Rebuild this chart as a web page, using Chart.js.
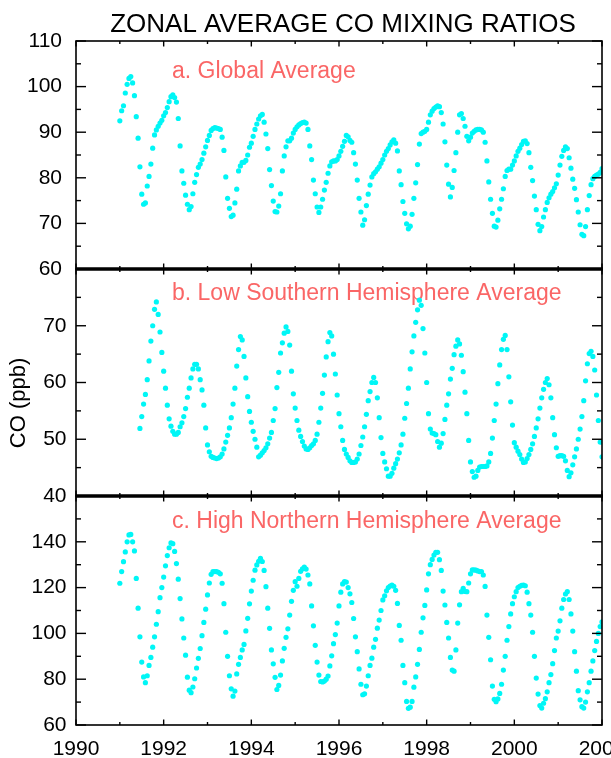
<!DOCTYPE html>
<html>
<head>
<meta charset="utf-8">
<title>Zonal average CO mixing ratios</title>
<script src="https://cdn.jsdelivr.net/npm/chart.js@4.4.1/dist/chart.umd.min.js"></script>
<style>
  html, body { margin: 0; padding: 0; background: #fff; }
  #wrap { position: relative; width: 611px; height: 758px; overflow: hidden; }
  #wrap canvas { position: absolute; left: 0; top: 0; }
</style>
</head>
<body>
<div id="wrap">
  <canvas id="panelA" width="611" height="758"></canvas>
  <canvas id="panelB" width="611" height="758"></canvas>
  <canvas id="panelC" width="611" height="758"></canvas>
</div>
<script>
// samples are twice a month (24 per year)
const STEPS_PER_YEAR = 24;

const yearTicks = [1990, 1992, 1994, 1996, 1998, 2000, 2002];
const globalTicks = [60, 70, 80, 90, 100, 110];
const lowSouthTicks = [40, 50, 60, 70];
const highNorthTicks = [60, 80, 100, 120, 140];

// a. global average, from 1991.0
const globalStart = 1991;
const globalCO = [
    92.5, 94.7, 95.8, 98.6, 100.5, 101.8, 102.2, 100.8, 98.0, 93.4, 88.7, 82.4, 76.4, 74.2, 74.5, 78.2, 80.3, 83.0, 86.5, 89.4, 90.5, 91.3, 92.0, 92.6,
    93.6, 94.3, 95.4, 96.7, 97.8, 98.2, 97.6, 96.6, 93.0, 87.0, 81.5, 78.8, 76.2, 74.2, 73.0, 73.7, 76.5, 79.0, 80.7, 82.3, 83.0, 84.0, 85.4, 86.8,
    88.2, 89.3, 90.4, 90.8, 91.0, 90.9, 90.8, 90.6, 88.9, 86.0, 80.2, 75.5, 73.3, 71.5, 71.8, 74.5, 77.5, 81.5, 82.6, 83.4, 83.4, 83.8, 85.0, 86.7,
    87.6, 89.1, 90.6, 91.8, 92.9, 93.6, 93.9, 92.2, 89.6, 86.4, 81.8, 78.3, 74.9, 72.6, 72.5, 73.8, 76.5, 81.5, 84.8, 86.8, 88.1, 88.1, 88.7, 89.8,
    90.6, 91.2, 91.6, 91.9, 92.1, 92.2, 92.0, 90.6, 87.0, 84.0, 79.5, 76.5, 73.6, 72.4, 73.6, 75.3, 77.3, 79.0, 81.0, 82.6, 83.5, 83.7, 83.7, 84.0,
    84.8, 85.8, 86.9, 88.0, 89.3, 89.0, 88.2, 87.8, 85.5, 83.0, 79.5, 75.5, 72.5, 69.6, 70.8, 73.9, 76.4, 78.4, 80.2, 80.9, 81.3, 81.9, 82.4, 83.2,
    84.0, 85.0, 85.8, 86.4, 87.2, 87.9, 88.3, 87.6, 85.9, 81.5, 78.5, 74.8, 72.2, 69.9, 68.8, 69.4, 72.0, 75.5, 78.9, 82.9, 87.4, 89.7, 90.0, 90.2,
    90.6, 92.2, 93.8, 94.6, 95.2, 95.5, 95.8, 95.6, 94.3, 91.8, 87.9, 82.8, 78.6, 75.8, 77.9, 81.6, 85.5, 90.0, 93.8, 94.1, 93.0, 91.3, 89.1, 88.1,
    88.9, 89.8, 90.2, 90.5, 90.6, 90.6, 90.5, 90.0, 87.8, 83.7, 79.1, 75.3, 72.2, 69.4, 69.2, 70.7, 73.2, 75.3, 77.6, 80.3, 81.6, 81.9, 81.9, 82.8,
    83.7, 84.8, 85.8, 86.5, 87.3, 88.0, 88.1, 87.5, 85.5, 82.3, 79.4, 76.0, 73.0, 69.8, 68.4, 69.3, 71.4, 73.0, 74.6, 75.6, 76.4, 77.0, 77.8, 78.7,
    80.6, 82.8, 84.7, 86.0, 86.8, 86.4, 84.4, 82.1, 79.7, 77.7, 75.2, 72.5, 69.7, 67.6, 67.3, 69.3, 73.0, 76.1, 78.5, 79.8, 80.3, 80.6, 80.8, 81.2,
    82.0
];

// b. low southern hemisphere average, from mid 1991
const lowSouthStart = 1991 + 11 / 24;
const lowSouthCO = [
    51.9, 54.0, 56.2, 57.9, 60.5, 63.8, 67.3, 70.0, 72.9, 74.2, 72.0, 68.9, 65.3,
    62.0, 59.0, 56.0, 53.6, 52.3, 51.4, 50.9, 50.9, 51.2, 52.2, 52.9, 54.0, 55.4, 57.4, 59.0, 60.8, 62.4, 63.2, 63.2, 62.4, 60.5, 58.7, 56.0, 52.0,
    49.0, 47.8, 47.0, 46.8, 46.7, 46.6, 46.7, 46.9, 47.4, 48.3, 49.5, 50.7, 52.0, 53.8, 56.2, 59.0, 62.9, 65.8, 68.1, 67.5, 64.6, 60.8, 57.5, 54.9,
    53.0, 51.4, 50.0, 48.6, 46.9, 47.2, 47.6, 48.0, 48.5, 49.2, 50.2, 51.2, 53.3, 55.4, 59.1, 61.8, 65.2, 67.0, 68.7, 69.8, 69.0, 66.6, 62.0, 58.0,
    55.5, 53.3, 51.6, 50.5, 49.6, 48.8, 48.3, 48.2, 48.5, 48.9, 49.2, 49.8, 50.9, 53.0, 55.5, 58.1, 61.3, 64.5, 67.2, 68.8, 68.2, 65.0, 61.5, 57.8,
    54.5, 52.2, 49.8, 48.2, 47.4, 46.8, 46.2, 45.9, 45.9, 46.0, 46.5, 47.4, 48.9, 50.4, 52.2, 54.4, 56.8, 58.4, 60.0, 60.9, 60.0, 57.3, 53.8, 50.3,
    47.5, 46.0, 44.8, 43.5, 43.5, 44.0, 44.9, 45.7, 46.5, 47.6, 49.0, 50.9, 53.7, 56.3, 59.0, 62.4, 65.4, 68.2, 70.6, 72.8, 74.5, 73.6, 69.5, 65.2,
    60.0, 54.5, 51.8, 51.1, 51.0, 50.8, 49.6, 48.6, 49.3, 51.0, 53.5, 56.0, 58.0, 60.6, 62.5, 64.9, 66.4, 67.5, 66.8, 64.8, 61.9, 58.3, 54.5, 49.8,
    46.0, 44.3, 43.3, 43.5, 44.5, 45.1, 45.2, 45.2, 45.2, 45.3, 46.0, 47.5, 50.2, 53.3, 56.2, 59.8, 63.1, 65.8, 67.6, 68.3, 65.8, 61.0, 56.6, 52.5,
    49.4, 48.6, 47.9, 47.3, 46.5, 45.9, 46.0, 46.6, 47.3, 48.2, 49.2, 50.5, 52.0, 53.6, 55.5, 57.3, 58.8, 60.0, 60.7, 59.6, 57.3, 53.8, 50.8, 48.5,
    47.0, 47.1, 47.1, 47.0, 46.2, 44.5, 43.4, 44.1, 45.5, 46.9, 48.3, 50.0, 51.8, 54.0, 56.8, 60.3, 63.3, 65.1, 65.5, 64.6, 62.2, 57.8, 53.3, 49.5,
    46.9
];

// c. high northern hemisphere average, from 1991.0
const highNorthStart = 1991;
const highNorthCO = [
    121.9, 127.0, 131.3, 135.6, 140.0, 143.0, 143.2, 140.0, 136.0, 124.0, 111.0, 98.5, 87.5, 81.0, 78.5, 81.5, 86.0, 89.5, 94.0, 98.5, 104.0, 109.5, 115.6, 120.0,
    124.6, 129.5, 134.0, 137.4, 139.5, 139.2, 135.8, 130.5, 123.7, 115.2, 106.3, 98.0, 90.5, 80.9, 75.2, 74.1, 76.6, 80.2, 84.9, 89.1, 93.4, 99.0, 104.8, 110.6,
    116.8, 122.0, 125.8, 127.0, 127.0, 127.0, 126.7, 126.0, 121.9, 113.0, 100.5, 90.0, 81.5, 75.8, 72.6, 74.8, 82.3, 86.5, 89.5, 92.8, 95.2, 101.1, 106.6, 112.9,
    118.5, 123.2, 127.6, 129.9, 131.5, 132.8, 131.4, 127.5, 120.4, 111.0, 102.2, 92.8, 86.7, 80.8, 75.5, 77.3, 81.8, 88.0, 93.5, 98.3, 102.0, 108.0, 114.0, 118.8,
    122.6, 120.6, 124.0, 127.1, 128.2, 128.9, 128.1, 125.5, 121.6, 112.0, 103.3, 94.8, 87.5, 81.8, 79.0, 78.8, 79.2, 80.0, 81.4, 85.8, 90.2, 95.5, 99.5, 104.5,
    112.0, 118.0, 121.6, 122.6, 122.4, 120.0, 117.3, 113.5, 106.5, 98.5, 92.0, 84.5, 77.8, 73.2, 73.6, 77.0, 81.5, 86.0, 89.2, 94.0, 97.4, 102.3, 105.8, 110.0,
    114.6, 116.4, 118.6, 120.0, 120.7, 121.1, 120.6, 118.8, 113.1, 103.5, 97.0, 86.0, 78.5, 70.3, 67.3, 67.8, 70.3, 76.5, 81.0, 86.5, 93.0, 100.5, 106.8, 112.2,
    119.0, 126.0, 130.0, 132.3, 134.2, 135.4, 135.4, 132.2, 127.5, 118.5, 112.4, 104.8, 98.0, 89.5, 84.0, 83.5, 92.8, 104.5, 112.5, 118.2, 119.7, 118.3, 118.2, 122.0,
    126.0, 127.7, 127.7, 127.6, 127.3, 127.0, 127.0, 125.5, 120.5, 108.0, 98.3, 88.5, 77.0, 71.2, 70.2, 71.4, 73.8, 77.8, 84.0, 90.0, 97.0, 103.0, 108.5, 113.0,
    116.0, 118.2, 120.0, 120.6, 121.0, 121.1, 120.8, 118.0, 113.0, 108.0, 100.5, 90.0, 80.5, 73.5, 68.5, 67.4, 69.5, 71.5, 74.5, 78.5, 82.0, 86.8, 92.5, 98.0,
    101.0, 105.5, 111.0, 114.8, 117.2, 118.2, 114.8, 108.5, 101.0, 92.0, 83.5, 75.0, 71.0, 68.0, 67.4, 70.0, 74.5, 78.5, 83.5, 88.0, 92.5, 96.5, 100.0, 103.0,
    105.0
];

const DOT = '#00f6f6';
const NAME_COLOR = '#fa6666';
const FONT = '"Liberation Sans", Arial, Helvetica, sans-serif';

function toPoints(start, values) {
    return values.map((v, i) => ({ x: start + i / STEPS_PER_YEAR, y: v }));
}

const panels = [
    {
        id: 'panelA', name: 'a. Global Average', start: globalStart, values: globalCO, ticks: globalTicks,
        min: 60, max: 110, minor: 5, major: 10, top: 41, bottom: 269, labelX: 62, nameY: 78,
    },
    {
        id: 'panelB', name: 'b. Low Southern Hemisphere Average', start: lowSouthStart, values: lowSouthCO, ticks: lowSouthTicks,
        min: 40, max: 80, minor: 5, major: 10, top: 269, bottom: 496, labelX: 66.5, nameY: 300,
    },
    {
        id: 'panelC', name: 'c. High Northern Hemisphere Average', start: highNorthStart, values: highNorthCO, ticks: highNorthTicks,
        min: 60, max: 160, minor: 10, major: 20, top: 496, bottom: 725, labelX: 66.5, nameY: 528,
    },
];

function line(ctx, x1, y1, x2, y2) {
    ctx.beginPath();
    ctx.moveTo(x1, y1);
    ctx.lineTo(x2, y2);
    ctx.stroke();
}

function panelPlugin(panel, index) {
    return {
        id: 'panelFrame' + index,
        beforeDatasetsDraw(chart) {
            const { ctx, chartArea: a } = chart;
            ctx.save();
            ctx.fillStyle = NAME_COLOR;
            ctx.font = '23px ' + FONT;
            ctx.textAlign = 'left';
            ctx.textBaseline = 'alphabetic';
            ctx.fillText(panel.name, a.left + 96, panel.nameY);
            ctx.restore();
        },
        afterDatasetsDraw(chart) {
            const { ctx, chartArea: a, scales: { x, y } } = chart;
            ctx.save();
            ctx.strokeStyle = '#000';
            ctx.lineWidth = 1.6;
            ctx.strokeRect(a.left, a.top, a.right - a.left, a.bottom - a.top);

            // panels share their borders, those lines are heavier
            ctx.lineWidth = 3;
            if (index > 0) line(ctx, a.left, a.top, a.right + 1, a.top);
            if (index < panels.length - 1) line(ctx, a.left, a.bottom, a.right + 1, a.bottom);

            ctx.lineWidth = 1.4;
            for (let yr = 1990; yr <= 2002; yr++) {
                const px = x.getPixelForValue(yr);
                const len = yr % 2 === 0 ? 5.5 : 3;
                line(ctx, px, a.bottom, px, a.bottom - len);
                line(ctx, px, a.top, px, a.top + len);
            }
            for (let v = panel.min; v <= panel.max; v += panel.minor) {
                const py = y.getPixelForValue(v);
                const len = (v - panel.min) % panel.major === 0 ? 10 : 5;
                line(ctx, a.left, py, a.left + len, py);
                line(ctx, a.right, py, a.right - len, py);
            }

            ctx.fillStyle = '#000';
            ctx.font = '21px ' + FONT;
            ctx.textAlign = 'right';
            ctx.textBaseline = 'middle';
            panel.ticks.forEach((v) => ctx.fillText(String(v), panel.labelX, y.getPixelForValue(v)));

            if (index === 0) {
                ctx.font = '26px ' + FONT;
                ctx.textAlign = 'center';
                ctx.textBaseline = 'alphabetic';
                ctx.fillText('ZONAL AVERAGE CO MIXING RATIOS', 343, 31.5);
            }
            if (index === 1) {
                ctx.save();
                ctx.translate(19, 403);
                ctx.rotate(-Math.PI / 2);
                ctx.font = '22px ' + FONT;
                ctx.textAlign = 'center';
                ctx.textBaseline = 'middle';
                ctx.fillText('CO (ppb)', 0, 0);
                ctx.restore();
            }
            if (index === panels.length - 1) {
                ctx.font = '21px ' + FONT;
                ctx.textAlign = 'center';
                ctx.textBaseline = 'middle';
                yearTicks.forEach((yr) => ctx.fillText(String(yr), x.getPixelForValue(yr), a.bottom + 24));
            }
            ctx.restore();
        },
    };
}

panels.forEach((panel, index) => {
    new Chart(document.getElementById(panel.id), {
        type: 'scatter',
        data: {
            datasets: [
                {
                    data: toPoints(panel.start, panel.values),
                    pointRadius: 2.6,
                    pointBackgroundColor: DOT,
                    pointBorderWidth: 0,
                    pointHoverRadius: 2.6,
                },
            ],
        },
        options: {
            responsive: false,
            animation: false,
            events: [],
            layout: {
                padding: { left: 76, right: 9, top: panel.top, bottom: 758 - panel.bottom },
            },
            plugins: {
                legend: { display: false },
                tooltip: { enabled: false },
            },
            scales: {
                x: { type: 'linear', min: 1990, max: 2002, display: false },
                y: { type: 'linear', min: panel.min, max: panel.max, display: false },
            },
        },
        plugins: [panelPlugin(panel, index)],
    });
});
</script>
</body>
</html>
